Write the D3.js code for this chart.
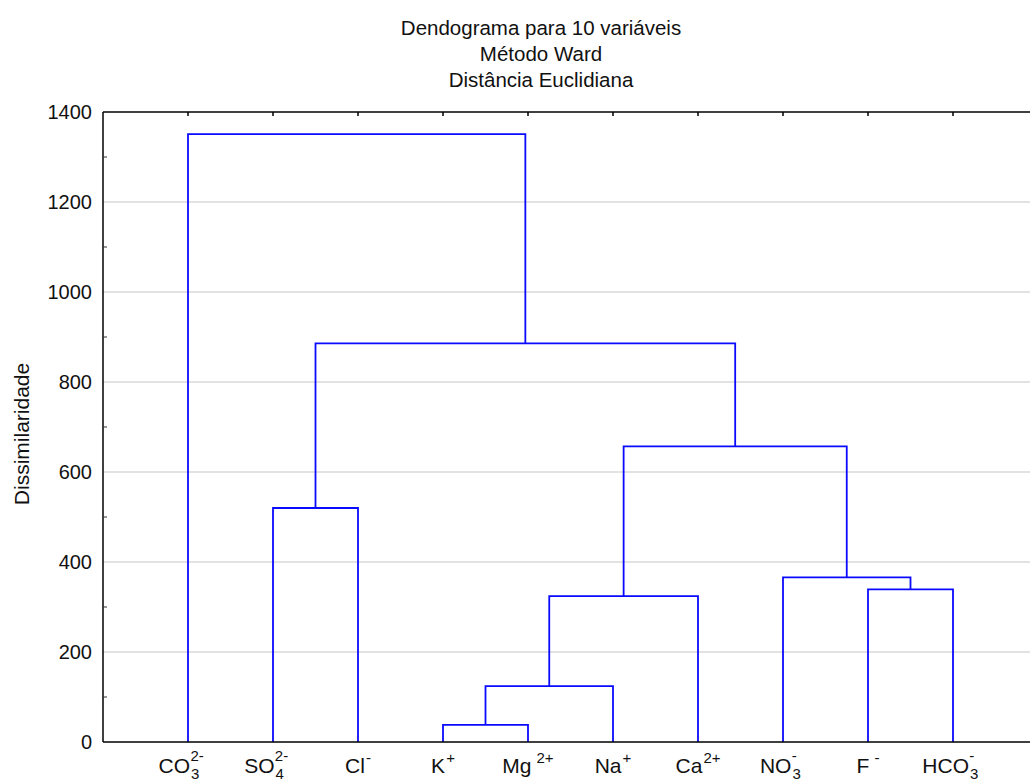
<!DOCTYPE html>
<html>
<head>
<meta charset="utf-8">
<script src="https://cdn.jsdelivr.net/npm/d3@7"></script>
<style>
  html, body { margin: 0; padding: 0; background: #fff; }
  svg { display: block; }
  .txt { font-family: "Liberation Sans", Arial, sans-serif; }
</style>
</head>
<body>
<svg id="chart" width="1030" height="781"></svg>
<script>
// Title lines
const titleLines = ["Dendograma para 10 variáveis", "Método Ward", "Distância Euclidiana"];
const yAxisTitle = "Dissimilaridade";

// Leaves, in dendrogram order (index 0..9)
const leafBase = ["CO", "SO", "Cl", "K", "Mg", "Na", "Ca", "NO", "F", "HCO"];
const leafSub  = ["3",  "4",  "",   "",  "",   "",   "",   "3",  "",  "3"];
const leafSup  = ["2-", "2-", "-",  "+", "2+", "+",  "2+", "-",  "-", "-"];

// Linkage (Ward): node 10+i joins mergeA[i] and mergeB[i] at mergeHeight[i]
const mergeA      = [3,  10,  11,  8,   7,   1,   12,  15,  0];
const mergeB      = [4,  5,   6,   9,   13,  2,   14,  16,  17];
const mergeHeight = [38, 124, 324, 339, 366, 520, 657, 886, 1351];

// Y axis ticks
const yMajorTicks = [0, 200, 400, 600, 800, 1000, 1200, 1400];
const yMinorTicks = [100, 300, 500, 700, 900, 1100, 1300];

const svg = d3.select("#chart");
const W = 1030, H = 781;
const plot = { left: 103, top: 112, bottom: 742, right: 1038 };

const leafIds = d3.range(leafBase.length);
const x = d3.scalePoint().domain(leafIds).range([plot.left, plot.right]).padding(1);
const y = d3.scaleLinear().domain([0, 1400]).range([plot.bottom, plot.top]);

// Gridlines
svg.append("g")
  .selectAll("line")
  .data(yMajorTicks.filter(v => v > 0 && v < 1400))
  .join("line")
  .attr("x1", plot.left).attr("x2", W)
  .attr("y1", d => y(d)).attr("y2", d => y(d))
  .attr("stroke", "#d9d9d9").attr("stroke-width", 1.5);

// Node positions
const nodeX = leafIds.map(i => x(i));
const nodeH = leafIds.map(() => 0);
mergeA.forEach((a, i) => {
  const b = mergeB[i];
  nodeX.push((nodeX[a] + nodeX[b]) / 2);
  nodeH.push(mergeHeight[i]);
});

// Dendrogram links
const links = mergeA.map((a, i) => {
  const b = mergeB[i];
  const p = d3.path();
  p.moveTo(nodeX[a], y(nodeH[a]));
  p.lineTo(nodeX[a], y(mergeHeight[i]));
  p.lineTo(nodeX[b], y(mergeHeight[i]));
  p.lineTo(nodeX[b], y(nodeH[b]));
  return p.toString();
});

svg.append("g")
  .selectAll("path")
  .data(links)
  .join("path")
  .attr("d", d => d)
  .attr("fill", "none")
  .attr("stroke", "#0a0aff")
  .attr("stroke-width", 1.8);

// Frame: left axis, top and bottom edges
const axisG = svg.append("g").attr("stroke", "#000").attr("stroke-width", 1.5);
axisG.append("line").attr("x1", plot.left).attr("x2", plot.left).attr("y1", plot.top).attr("y2", plot.bottom);
axisG.append("line").attr("x1", plot.left).attr("x2", W).attr("y1", plot.top).attr("y2", plot.top);
axisG.append("line").attr("x1", plot.left).attr("x2", W).attr("y1", plot.bottom).attr("y2", plot.bottom);

// Top ticks at leaf positions
axisG.append("g").selectAll("line").data(leafIds).join("line")
  .attr("x1", d => x(d)).attr("x2", d => x(d))
  .attr("y1", plot.top).attr("y2", plot.top + 4);

// Minor ticks on the y axis
svg.append("g").attr("stroke", "#333").attr("stroke-width", 1)
  .selectAll("line").data(yMinorTicks).join("line")
  .attr("x1", plot.left).attr("x2", plot.left + 4)
  .attr("y1", d => y(d)).attr("y2", d => y(d));

// Y tick labels
svg.append("g").attr("class", "txt")
  .selectAll("text").data(yMajorTicks).join("text")
  .attr("x", plot.left - 11)
  .attr("y", d => y(d))
  .attr("dy", "0.36em")
  .attr("text-anchor", "end")
  .attr("font-size", 20)
  .attr("fill", "#111")
  .text(d => d);

// Y axis title
svg.append("text").attr("class", "txt")
  .attr("transform", `translate(29, ${(plot.top + plot.bottom) / 2 + 7}) rotate(-90)`)
  .attr("text-anchor", "middle")
  .attr("font-size", 21)
  .attr("fill", "#111")
  .text(yAxisTitle);

// Title
svg.append("g").attr("class", "txt")
  .selectAll("text").data(titleLines).join("text")
  .attr("x", 541)
  .attr("y", (d, i) => 35 + i * 26)
  .attr("text-anchor", "middle")
  .attr("font-size", 20.5)
  .attr("fill", "#111")
  .text(d => d);

// Leaf labels with subscripts and superscripts
const labels = svg.append("g").attr("class", "txt")
  .selectAll("text").data(leafIds).join("text")
  .attr("x", d => x(d))
  .attr("y", 773)
  .attr("text-anchor", "middle")
  .attr("font-size", 21)
  .attr("fill", "#111");

labels.each(function(i) {
  const t = d3.select(this);
  t.append("tspan").text(leafBase[i]);
  if (leafSub[i]) {
    const sub = t.append("tspan").attr("font-size", 15).attr("dx", 1).attr("dy", 6).text(leafSub[i]);
    const sup = t.append("tspan").attr("font-size", 15).attr("dx", -9).attr("dy", -18).text(leafSup[i]);
    // stacked index: centre as if sub and sup were laid out in sequence
    const extra = (sub.node().getComputedTextLength() + sup.node().getComputedTextLength()) / 2;
    t.attr("x", x(i) - extra + 4);
  } else {
    const gap = leafBase[i] === "Mg" || leafBase[i] === "F" ? 5 : 1;
    t.append("tspan").attr("font-size", 15).attr("dx", gap).attr("dy", -10).text(leafSup[i]);
  }
});
</script>
</body>
</html>
